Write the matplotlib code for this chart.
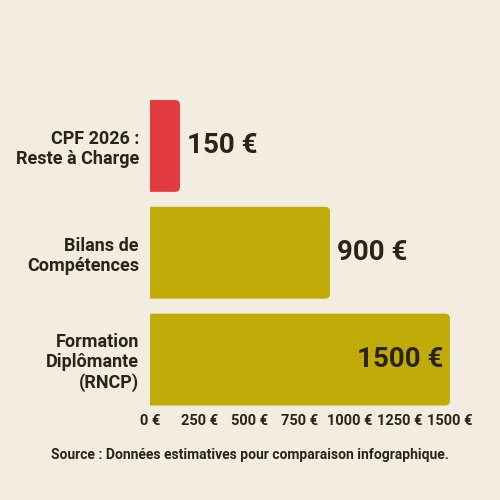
import matplotlib
matplotlib.use("Agg")
import matplotlib.pyplot as plt
from matplotlib.patches import FancyBboxPatch

categories = ["CPF 2026 :\nReste à Charge", "Bilans de\nCompétences", "Formation\nDiplômante\n(RNCP)"]
values = [150, 900, 1500]
value_labels = ["150 €", "900 €", "1500 €"]
colors = ["#e23b41", "#c1ab08", "#c1ab08"]
xticks = [0, 250, 500, 750, 1000, 1250, 1500]
xtick_labels = ["0 €", "250 €", "500 €", "750 €", "1000 €", "1250 €", "1500 €"]
source = "Source : Données estimatives pour comparaison infographique."

BG = "#f3ece1"
TXT = "#2a2512"
FONT = "Roboto"

AX_L, AX_B, AX_W, AX_H = 0.30, 0.174, 0.60, 0.641
fig = plt.figure(figsize=(5, 5), dpi=100, facecolor=BG)
ax = fig.add_axes([AX_L, AX_B, AX_W, AX_H], facecolor=BG)
ax.set_xlim(0, 1500)
ax.set_ylim(2.5, -0.5)

ypos = list(range(len(values)))
h = 0.86
bars = ax.barh(ypos, values, height=h, color="none")

# rounded right corners (left corners hidden behind the axes clip)
x_per_px = 1500 / (AX_W * 500)
y_per_px = 3 / (AX_H * 500)
r_px = 5
ext = 60
for b, c in zip(bars, colors):
    x0, y0 = b.get_x(), b.get_y()
    w, hh = b.get_width(), b.get_height()
    p = FancyBboxPatch((x0 - ext, y0), w + ext, hh,
                       boxstyle=f"round,pad=0,rounding_size={r_px * x_per_px}",
                       mutation_aspect=y_per_px / x_per_px,
                       facecolor=c, edgecolor="none", clip_on=True)
    ax.add_patch(p)
    p.set_clip_path(ax.patch)

for y, v, lab in zip(ypos, values, value_labels):
    if v >= 1400:
        ax.text(v - 7 * x_per_px, y, lab, ha="right", va="center", fontsize=20,
                fontweight="bold", color=TXT, family=FONT)
    else:
        ax.text(v + 7 * x_per_px, y, lab, ha="left", va="center", fontsize=20,
                fontweight="bold", color=TXT, family=FONT)

ax.set_yticks(ypos)
ax.set_yticklabels(categories, fontsize=13, fontweight="bold", color=TXT,
                   family=FONT, linespacing=1.15)
ax.set_xticks(xticks)
ax.set_xticklabels(xtick_labels, fontsize=10.5, fontweight="bold", color=TXT, family=FONT)
ax.tick_params(axis="both", length=0)
ax.tick_params(axis="y", pad=8)
ax.tick_params(axis="x", pad=1)
for s in ax.spines.values():
    s.set_visible(False)

fig.text(0.5, 0.089, source, ha="center", va="center", fontsize=10,
         fontweight="bold", color=TXT, family=FONT)

fig.savefig("out.png", dpi=100, facecolor=BG)
